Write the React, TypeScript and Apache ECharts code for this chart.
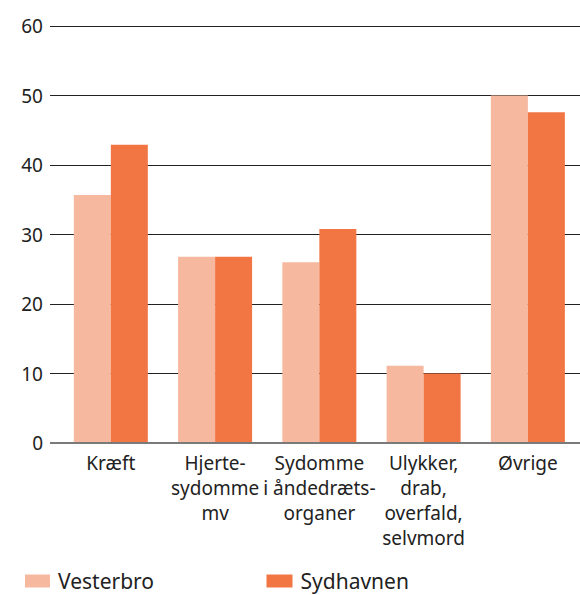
import React, { useEffect, useRef } from "react";
import * as echarts from "echarts";

const categories = ["Kræft", "Hjerte-\nsydomme\nmv", "Sydomme\ni åndedræts-\norganer", "Ulykker,\ndrab,\noverfald,\nselvmord", "Øvrige"];
const vesterbro = [35.7, 26.8, 26.0, 11.1, 50.0];
const sydhavnen = [42.9, 26.8, 30.8, 10.0, 47.6];
const yTicks = [0, 10, 20, 30, 40, 50, 60];

const FONT = "Noto Sans";

export default function App() {
  const ref = useRef<HTMLDivElement>(null);
  useEffect(() => {
    if (!ref.current) return;
    const chart = echarts.init(ref.current, undefined, { renderer: "svg" });
    const top = 26;
    const height = 417;
    chart.setOption({
      animation: false,
      textStyle: { fontFamily: FONT },
      grid: [
        { left: 50, right: 0, top, height, containLabel: false },
        { left: 58.7, width: 523, top, height, containLabel: false },
      ],
      xAxis: [
        { type: "value", gridIndex: 0, show: false, min: 0, max: 1 },
        {
          type: "category",
          gridIndex: 1,
          data: categories,
          axisLine: { show: false },
          axisTick: { show: false },
          axisLabel: {
            color: "#222",
            fontSize: 19,
            fontFamily: FONT,
            lineHeight: 25,
            margin: 7,
            interval: 0,
            verticalAlign: "top",
          },
        },
      ],
      yAxis: [
        {
          type: "value",
          gridIndex: 0,
          min: 0,
          max: 60,
          interval: 10,
          axisLine: { show: false },
          axisTick: { show: false },
          axisLabel: {
            color: "#222",
            fontSize: 19,
            fontFamily: FONT,
            margin: 7,
            formatter: (v: number) => (yTicks.includes(v) ? String(v) : ""),
          },
          splitLine: {
            show: true,
            lineStyle: { color: "#222", width: 1 },
          },
        },
        { type: "value", gridIndex: 1, min: 0, max: 60, show: false },
      ],
      legend: [
        {
          left: 25,
          top: 570,
          padding: 0,
          data: ["Vesterbro"],
          itemWidth: 25,
          itemHeight: 13,
          icon: "rect",
          textStyle: { fontSize: 21, lineHeight: 22, color: "#222", fontFamily: FONT, padding: [0, 0, 0, 3] },
        },
        {
          left: 266.5,
          top: 570,
          padding: 0,
          data: ["Sydhavnen"],
          itemWidth: 26,
          itemHeight: 13,
          icon: "rect",
          textStyle: { fontSize: 21, lineHeight: 22, color: "#222", fontFamily: FONT, padding: [0, 0, 0, 3] },
        },
      ],
      series: [
        {
          name: "Vesterbro",
          type: "bar",
          xAxisIndex: 1,
          yAxisIndex: 1,
          data: vesterbro,
          barWidth: 37,
          barGap: "0%",
          itemStyle: { color: "#F7B8A0" },
        },
        {
          name: "Sydhavnen",
          type: "bar",
          xAxisIndex: 1,
          yAxisIndex: 1,
          data: sydhavnen,
          barWidth: 37,
          barGap: "0%",
          itemStyle: { color: "#F27644" },
        },
        {
          type: "line",
          xAxisIndex: 0,
          yAxisIndex: 0,
          data: [[0, 0], [1, 0]],
          symbol: "none",
          silent: true,
          lineStyle: { color: "#7a7a7a", width: 2 },
          z: 5,
        },
      ],
    });
    return () => chart.dispose();
  }, []);
  return (
    <div
      ref={ref}
      style={{ position: "absolute", left: 0, top: 0, width: 580, height: 595, overflow: "hidden" }}
    />
  );
}
